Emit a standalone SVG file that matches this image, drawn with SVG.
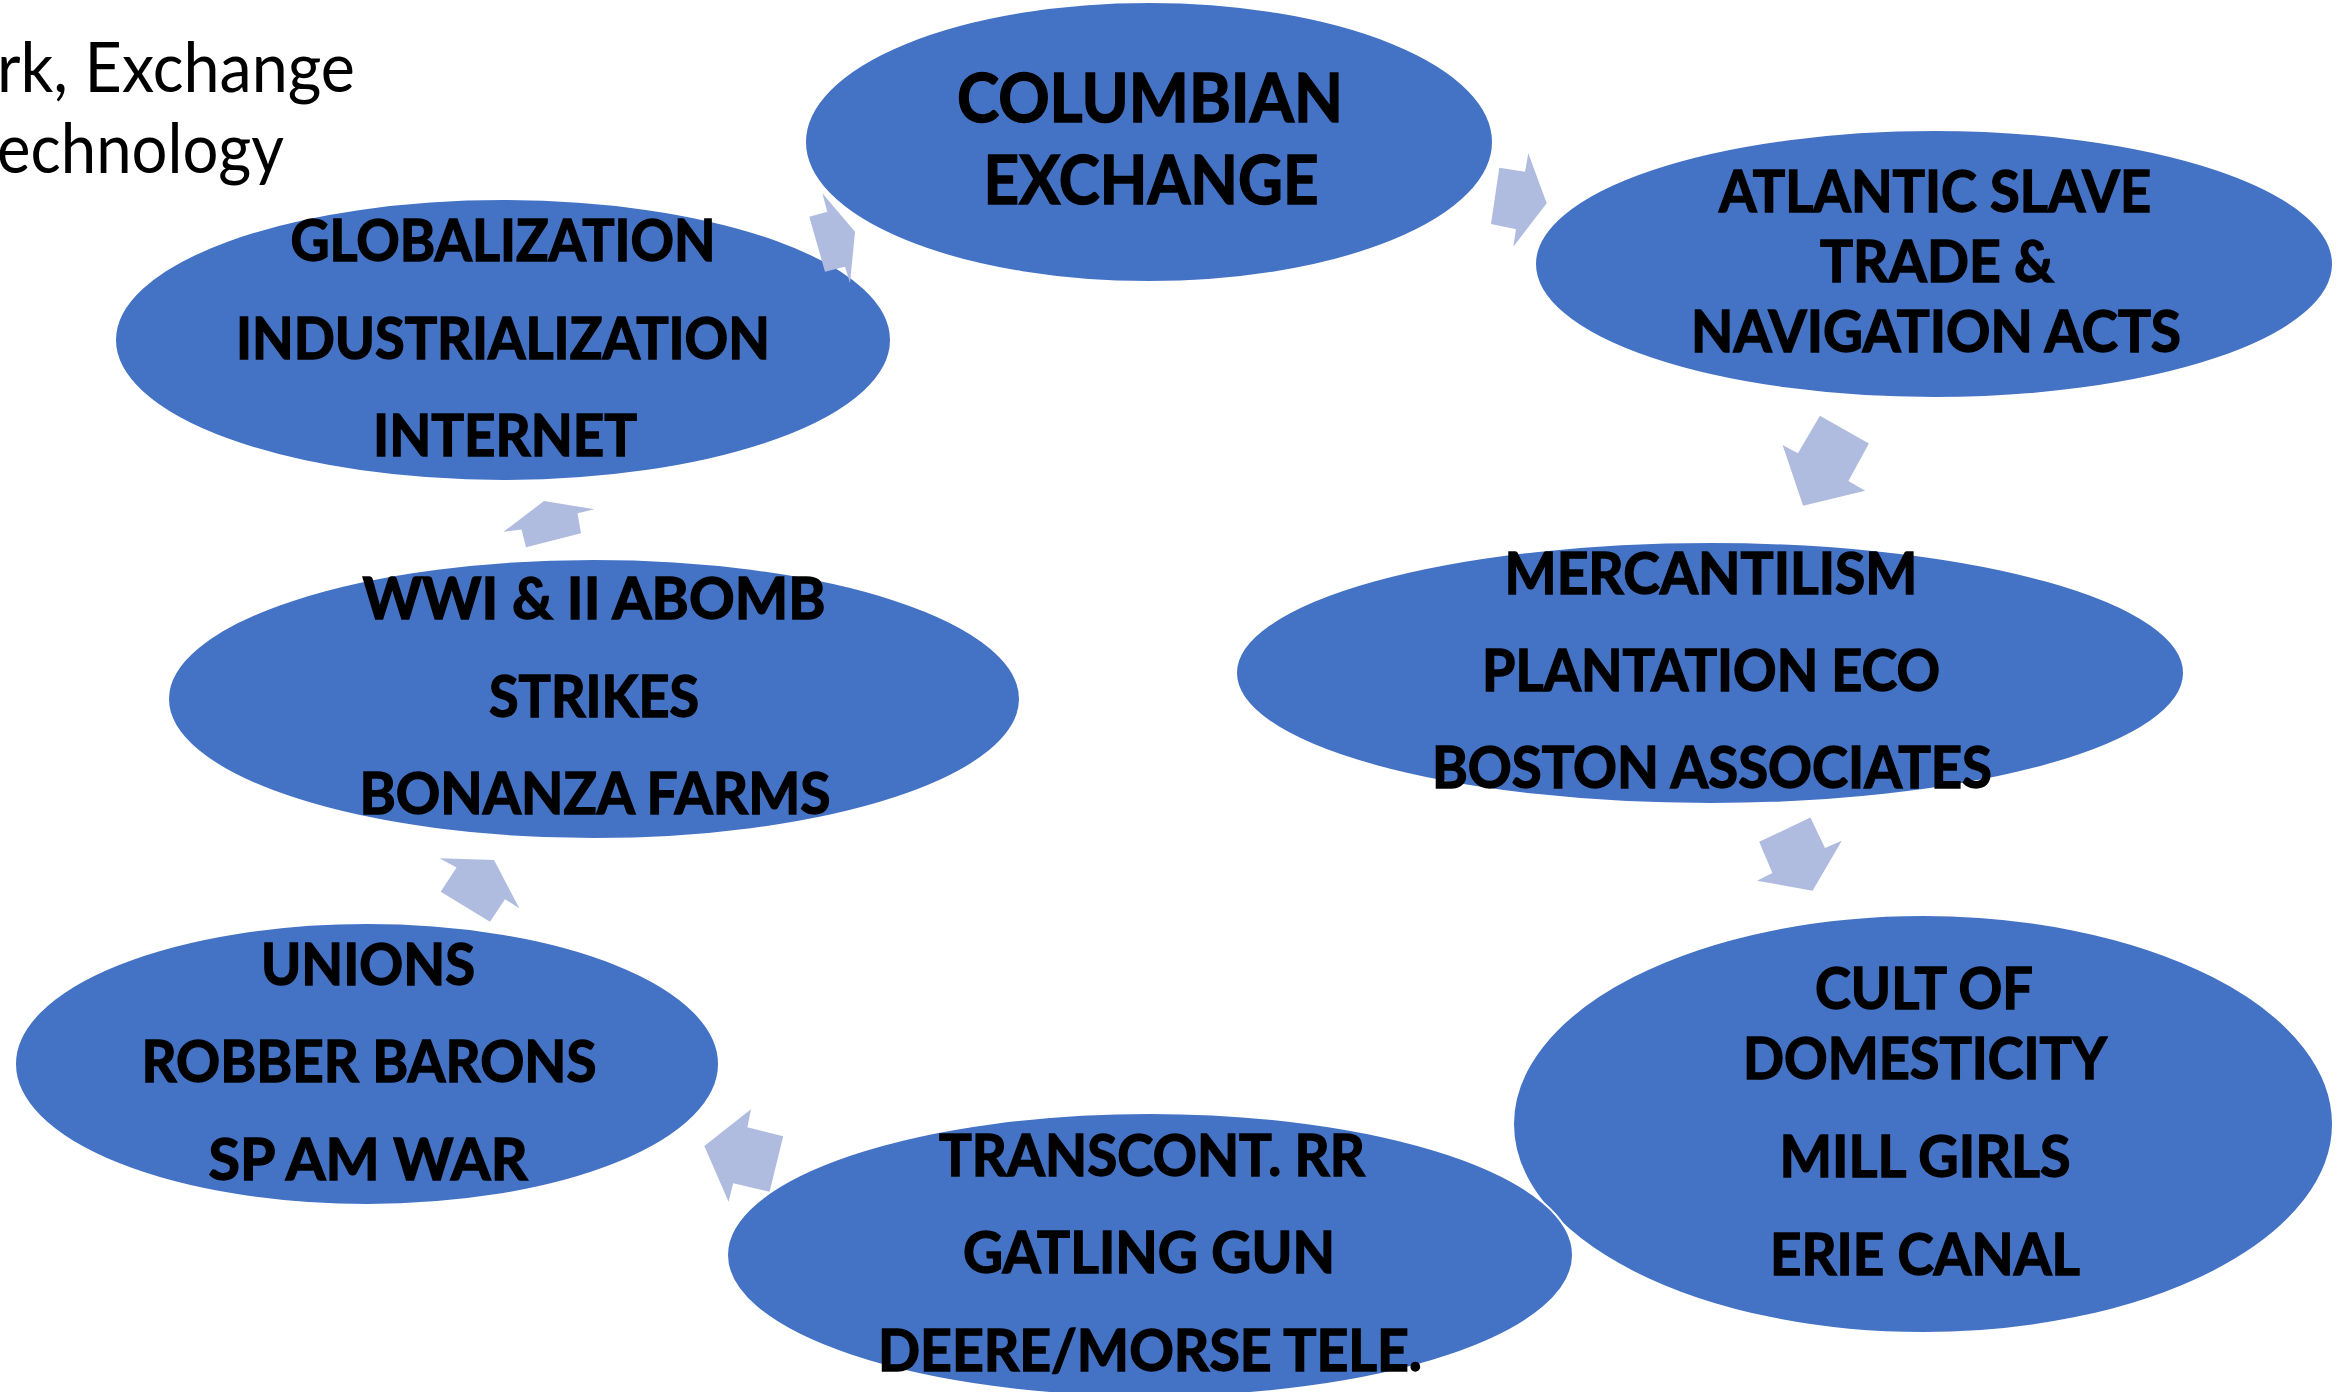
<svg xmlns="http://www.w3.org/2000/svg" width="2346" height="1392" viewBox="0 0 2346 1392">
<style>
.node ellipse{fill:#4472C4;stroke:#FFFFFF;stroke-width:2}
.node text{font-family:Lato,"Open Sans","Liberation Sans",sans-serif;font-weight:bold;font-size:57px;fill:#000000;stroke:#000000;stroke-width:1.4;text-anchor:middle}
.node text.big{font-size:67px}
.title{font-family:Lato,"Open Sans","Liberation Sans",sans-serif;font-size:69px;fill:#000000}
#connectors polygon{fill:#B0BCDF;stroke:none}
</style>
<rect width="2346" height="1392" fill="#FFFFFF"/>
<g id="title">
<text class="title" x="-3" y="92" textLength="358" lengthAdjust="spacingAndGlyphs">rk, Exchange</text>
<text class="title" x="-3" y="173" textLength="287" lengthAdjust="spacingAndGlyphs">echnology</text>
</g>
<g id="node-columbian" class="node">
<ellipse cx="1149" cy="142" rx="344" ry="140"/>
<text class="big" x="1150" y="122" textLength="386" lengthAdjust="spacingAndGlyphs">COLUMBIAN</text>
<text class="big" x="1151" y="204" textLength="335" lengthAdjust="spacingAndGlyphs">EXCHANGE</text>
</g>
<g id="node-atlantic" class="node">
<ellipse cx="1934" cy="264" rx="399" ry="134"/>
<text x="1935" y="212" textLength="432" lengthAdjust="spacingAndGlyphs">ATLANTIC SLAVE</text>
<text x="1937" y="282" textLength="234" lengthAdjust="spacingAndGlyphs">TRADE &amp;</text>
<text x="1936" y="352" textLength="490" lengthAdjust="spacingAndGlyphs">NAVIGATION ACTS</text>
</g>
<g id="node-mercantilism" class="node">
<ellipse cx="1710" cy="673" rx="474" ry="131"/>
<text x="1711" y="594" textLength="413" lengthAdjust="spacingAndGlyphs">MERCANTILISM</text>
<text x="1711" y="691" textLength="458" lengthAdjust="spacingAndGlyphs">PLANTATION ECO</text>
<text x="1712" y="788" textLength="560" lengthAdjust="spacingAndGlyphs">BOSTON ASSOCIATES</text>
</g>
<g id="node-cult" class="node">
<ellipse cx="1923" cy="1124" rx="410" ry="209"/>
<text x="1924" y="1009" textLength="218" lengthAdjust="spacingAndGlyphs">CULT OF</text>
<text x="1925" y="1079" textLength="364" lengthAdjust="spacingAndGlyphs">DOMESTICITY</text>
<text x="1925" y="1177" textLength="291" lengthAdjust="spacingAndGlyphs">MILL GIRLS</text>
<text x="1925" y="1275" textLength="310" lengthAdjust="spacingAndGlyphs">ERIE CANAL</text>
</g>
<g id="node-transcont" class="node">
<ellipse cx="1150" cy="1255" rx="423" ry="142"/>
<text x="1152" y="1176" textLength="426" lengthAdjust="spacingAndGlyphs">TRANSCONT. RR</text>
<text x="1149" y="1273" textLength="372" lengthAdjust="spacingAndGlyphs">GATLING GUN</text>
<text x="1150" y="1371" textLength="544" lengthAdjust="spacingAndGlyphs">DEERE/MORSE TELE.</text>
</g>
<g id="node-unions" class="node">
<ellipse cx="367" cy="1064" rx="352" ry="141"/>
<text x="368" y="985" textLength="214" lengthAdjust="spacingAndGlyphs">UNIONS</text>
<text x="369" y="1082" textLength="455" lengthAdjust="spacingAndGlyphs">ROBBER BARONS</text>
<text x="368" y="1180" textLength="319" lengthAdjust="spacingAndGlyphs">SP AM WAR</text>
</g>
<g id="node-wwi" class="node">
<ellipse cx="594" cy="699" rx="426" ry="140"/>
<text x="594" y="619" textLength="463" lengthAdjust="spacingAndGlyphs">WWI &amp; II ABOMB</text>
<text x="594" y="717" textLength="210" lengthAdjust="spacingAndGlyphs">STRIKES</text>
<text x="595" y="814" textLength="471" lengthAdjust="spacingAndGlyphs">BONANZA FARMS</text>
</g>
<g id="node-globalization" class="node">
<ellipse cx="503" cy="340" rx="388" ry="141"/>
<text x="503" y="261" textLength="425" lengthAdjust="spacingAndGlyphs">GLOBALIZATION</text>
<text x="503" y="359" textLength="534" lengthAdjust="spacingAndGlyphs">INDUSTRIALIZATION</text>
<text x="505" y="456" textLength="264" lengthAdjust="spacingAndGlyphs">INTERNET</text>
</g>
<g id="connectors">
<polygon points="809.3,216.7 827.3,211.7 822.3,193.3 855,231.7 850,283.3 845,266.7 825,271.7"/>
<polygon points="1499.3,167.7 1525,171.7 1528.3,153.3 1546.7,203.3 1513.3,246.7 1516,229.3 1491,224"/>
<polygon points="1819.9,415.7 1868.9,443.6 1848.4,481.1 1865.2,490.7 1803.1,505.7 1782.6,445 1797.9,453.2"/>
<polygon points="1810.4,817.5 1825,847.9 1841.8,840.7 1812.6,890.7 1757,880.7 1772.4,872.9 1759.2,841.8"/>
<polygon points="751,1109.3 747.4,1127.3 783.2,1136.3 769.6,1191.7 733.2,1183.3 728.6,1201.7 704.3,1146"/>
<polygon points="494,860 519.3,908.3 505,899.2 490,921.7 440.7,891.7 456.5,867.5 439.5,858.3"/>
<polygon points="544,501 594.5,509.2 577.5,513.3 581,533.3 526,547.3 521.5,529.5 503.5,531.8"/>
</g>
</svg>
